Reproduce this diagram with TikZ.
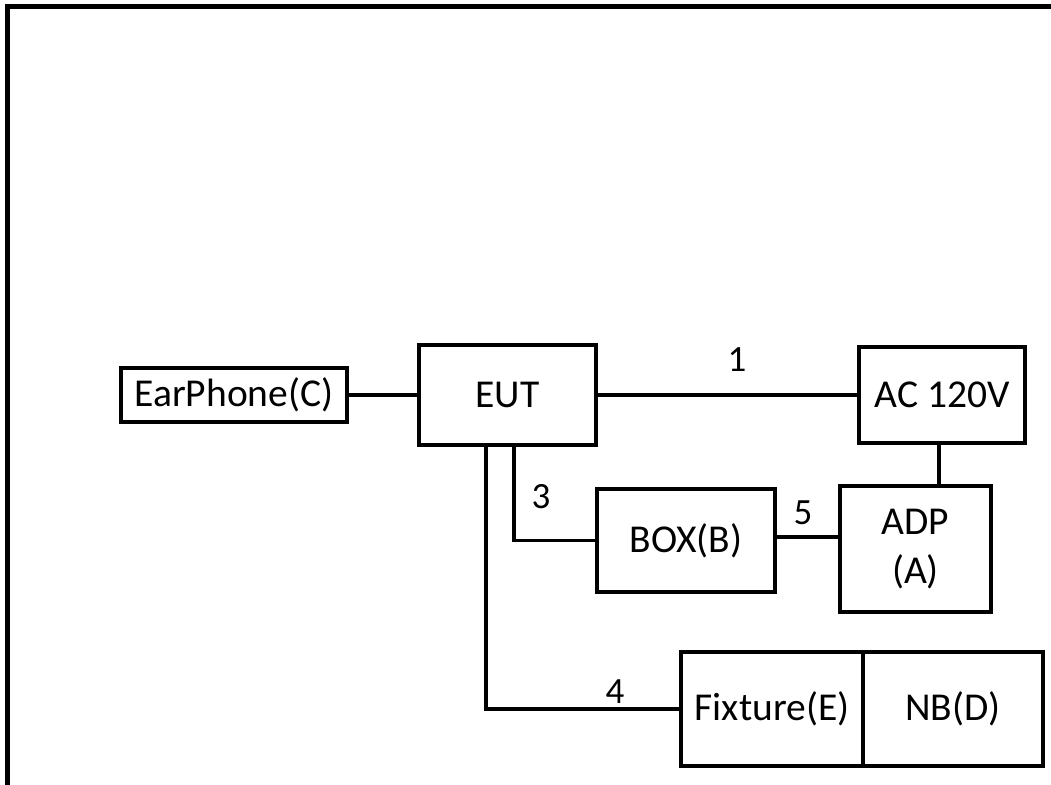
\documentclass[tikz,border=0pt]{standalone}
\usepackage{fontspec}
\setmainfont{Carlito}
\usetikzlibrary{positioning}
\tikzset{
  unit/.style={draw, line width=4.5pt, align=center, inner sep=0pt, font=\fontsize{39.5}{49}\selectfont},
  wire/.style={line width=3.2pt},
  num/.style={font=\fontsize{37}{44}\selectfont, inner sep=0pt}
}
\begin{document}
\begin{tikzpicture}[x=1pt, y=-1pt]
\clip (0,0) rectangle (1051,784);
\fill[white] (0,0) rectangle (1051,784);
\draw[line width=5pt] (1100,6.5) -- (7.5,6.5) -- (7.5,850);
% units
\node[unit, minimum width=226pt, minimum height=54pt] (ear) at (234,395) {EarPhone(C)};
\node[unit, minimum width=177pt, minimum height=100pt] (eut) at (507.5,395) {EUT};
\node[unit, minimum width=166pt, minimum height=96pt] (ac) at (942,395) {AC 120V};
\node[unit, minimum width=151pt, minimum height=126pt] (adp) at (915.5,549) {ADP\\(A)};
\node[unit, minimum width=178pt, minimum height=103pt] (box) at (686,540.5) {BOX(B)};
\node[unit, minimum width=182pt, minimum height=114pt] (fix) at (772,709) {Fixture(E)};
\node[unit, minimum width=180pt, minimum height=114pt, right=-4.5pt of fix] (nb) {NB(D)};
% cables
\draw[wire] (ear.east) -- (eut.west);
\draw[wire] (eut.east) -- (ac.west);
\draw[wire] ([xshift=-3pt]ac.south) -- ([xshift=-3pt]ac.south |- adp.north);
\draw[wire] ([xshift=6.5pt]eut.south) |- (box.west);
\draw[wire] ([yshift=3.5pt]box.east) -- ([yshift=3.5pt]box.east -| adp.west);
\draw[wire] ([xshift=-21.5pt]eut.south) |- (fix.west);
% cable numbers
\node[num] (n1) at (737,360) {1};
\node[num] (n3) at (541,497) {3};
\node[num] (n5) at (803,513) {5};
\node[num] (n4) at (615,692) {4};
\end{tikzpicture}
\end{document}
